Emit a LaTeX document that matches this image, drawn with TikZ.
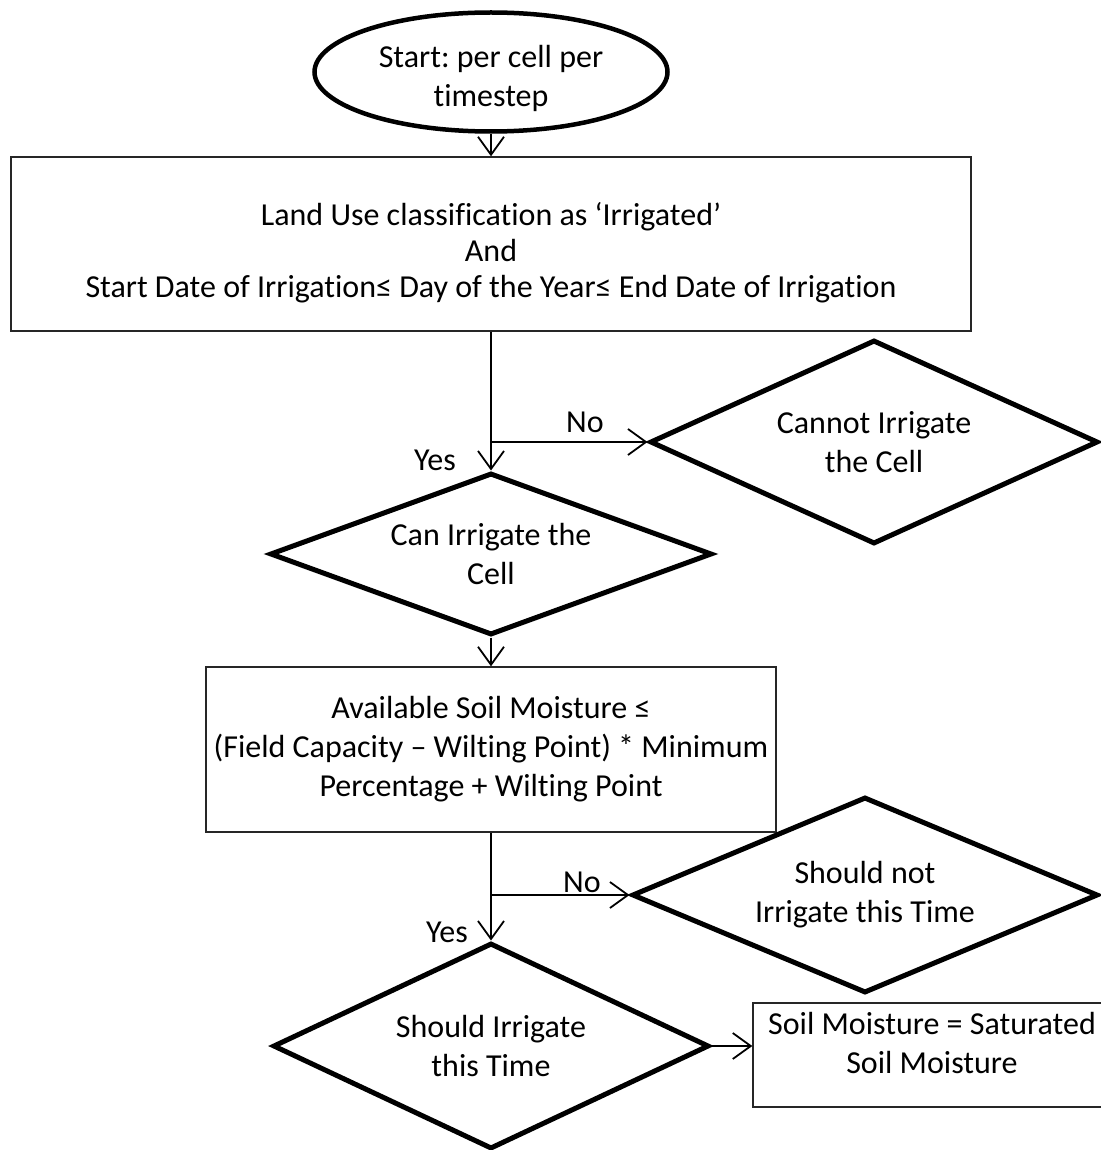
\documentclass[tikz,border=0pt]{standalone}
\usepackage{fontspec}
\setmainfont{Carlito}[Ligatures={NoCommon}]
\usetikzlibrary{shapes.geometric,arrows.meta}
\frenchspacing
\begin{document}
\begin{tikzpicture}[x=1pt,y=-1pt,
  every node/.style={font=\fontsize{32}{39}\selectfont},
  box/.style={draw=black!85, line width=1.4pt, rectangle, inner sep=0pt, align=center},
  dec/.style={draw, line width=5pt, diamond, inner sep=0pt, align=center, shape aspect=2.2},
  term/.style={draw, line width=4.5pt, ellipse, inner sep=0pt, align=center},
  arr/.style={line width=1.8pt, -{Straight Barb[length=18pt,width=26pt,line width=1.8pt]}},
  lbl/.style={inner sep=0pt, align=center}]
\useasboundingbox (0,0) rectangle (1100,1150);

\node[term, minimum width=353pt, minimum height=119pt] (start) at (491,72) {};
\node[lbl] (startt) at (491,78) {Start: per cell per\\timestep};
\node[box, minimum width=960pt, minimum height=174pt] (r1) at (491,244) {};
\node[lbl, font=\fontsize{32}{36}\selectfont] (r1t) at (491,253)
  {Land Use classification as ‘Irrigated’\\And\\Start Date of Irrigation≤ Day of the Year≤ End Date of Irrigation};
\node[dec, minimum width=442pt, minimum height=162pt] (d1) at (491,554) {Can Irrigate the\\Cell};
\node[dec, minimum width=448pt, minimum height=204pt] (dno) at (874,442) {Cannot Irrigate\\the Cell};
\node[box, minimum width=570pt, minimum height=165pt] (r2) at (491,749.5)
  {Available Soil Moisture ≤\\(Field Capacity – Wilting Point) * Minimum\\Percentage + Wilting Point};
\node[dec, minimum width=466pt, minimum height=196pt] (dsn) at (865,895) {Should not\\Irrigate this Time};
\node[dec, minimum width=436pt, minimum height=206pt] (d3) at (491,1046) {Should Irrigate\\this Time};
\node[box, minimum width=358pt, minimum height=104pt] (r3) at (932,1055) {};
\node[lbl] (r3t) at (932,1042.5) {Soil Moisture = Saturated\\Soil Moisture};

\node[lbl] (no1) at (585,422) {No};
\node[lbl] (yes1) at (435,460) {Yes};
\node[lbl] (no2) at (582,882) {No};
\node[lbl] (yes2) at (447,932) {Yes};

\draw[arr] (start.south) -- (r1.north);
\draw[arr] (r1.south) -- (d1.north);
\draw[arr] (r1.south |- dno.west) -- (dno.west);
\draw[arr] (d1.south) -- (r2.north);
\draw[arr] (r2.south) -- (d3.north);
\draw[arr] (r2.south |- dsn.west) -- (dsn.west);
\draw[arr] (d3.east) -- (d3.east -| r3.west);
\end{tikzpicture}
\end{document}
